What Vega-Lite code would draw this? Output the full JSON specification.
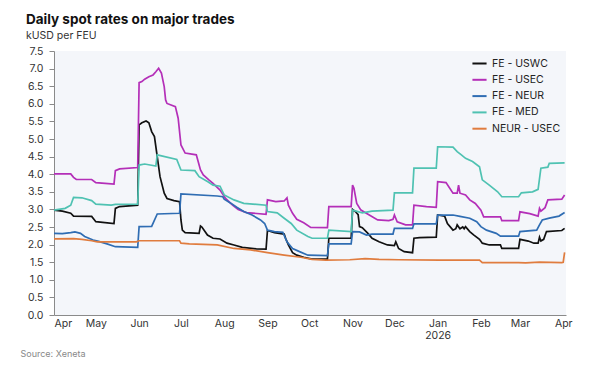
{
  "$schema": "https://vega.github.io/schema/vega-lite/v6.json",
  "width": 512,
  "height": 264,
  "autosize": "none",
  "padding": {"left": 54, "top": 51, "right": 34, "bottom": 62},
  "background": "#ffffff",
  "title": {
    "text": "Daily spot rates on major trades",
    "subtitle": "kUSD per FEU",
    "anchor": "start",
    "frame": "group",
    "dx": -28,
    "offset": 5,
    "font": "Inter",
    "fontSize": 13.5,
    "fontWeight": 700,
    "color": "#111111",
    "subtitleFont": "Inter",
    "subtitleFontSize": 10.5,
    "subtitleColor": "#333333",
    "subtitlePadding": 4
  },
  "config": {
    "view": {"fill": "#f4f6fa", "stroke": null},
    "font": "Inter"
  },
  "data": {
    "values": [
      {"s":"FE - USWC","d":"2025-04-01","v":2.98},{"s":"FE - USWC","d":"2025-04-07","v":2.95},{"s":"FE - USWC","d":"2025-04-13","v":2.89},{"s":"FE - USWC","d":"2025-04-15","v":2.81},{"s":"FE - USWC","d":"2025-04-28","v":2.80},{"s":"FE - USWC","d":"2025-05-01","v":2.65},{"s":"FE - USWC","d":"2025-05-14","v":2.60},{"s":"FE - USWC","d":"2025-05-15","v":3.03},{"s":"FE - USWC","d":"2025-05-18","v":3.08},{"s":"FE - USWC","d":"2025-05-31","v":3.12},{"s":"FE - USWC","d":"2025-06-01","v":5.40},{"s":"FE - USWC","d":"2025-06-03","v":5.46},{"s":"FE - USWC","d":"2025-06-06","v":5.51},{"s":"FE - USWC","d":"2025-06-08","v":5.46},{"s":"FE - USWC","d":"2025-06-10","v":5.21},{"s":"FE - USWC","d":"2025-06-12","v":5.07},{"s":"FE - USWC","d":"2025-06-14","v":4.50},{"s":"FE - USWC","d":"2025-06-16","v":3.93},{"s":"FE - USWC","d":"2025-06-19","v":3.46},{"s":"FE - USWC","d":"2025-06-21","v":3.31},{"s":"FE - USWC","d":"2025-06-26","v":3.25},{"s":"FE - USWC","d":"2025-06-30","v":3.22},{"s":"FE - USWC","d":"2025-07-01","v":2.70},{"s":"FE - USWC","d":"2025-07-02","v":2.41},{"s":"FE - USWC","d":"2025-07-04","v":2.34},{"s":"FE - USWC","d":"2025-07-14","v":2.32},{"s":"FE - USWC","d":"2025-07-15","v":2.53},{"s":"FE - USWC","d":"2025-07-16","v":2.50},{"s":"FE - USWC","d":"2025-07-20","v":2.27},{"s":"FE - USWC","d":"2025-07-24","v":2.18},{"s":"FE - USWC","d":"2025-07-29","v":2.16},{"s":"FE - USWC","d":"2025-08-03","v":2.04},{"s":"FE - USWC","d":"2025-08-08","v":1.99},{"s":"FE - USWC","d":"2025-08-14","v":1.92},{"s":"FE - USWC","d":"2025-08-24","v":1.88},{"s":"FE - USWC","d":"2025-08-31","v":1.87},{"s":"FE - USWC","d":"2025-09-01","v":2.40},{"s":"FE - USWC","d":"2025-09-06","v":2.34},{"s":"FE - USWC","d":"2025-09-13","v":2.30},{"s":"FE - USWC","d":"2025-09-14","v":2.18},{"s":"FE - USWC","d":"2025-09-16","v":1.99},{"s":"FE - USWC","d":"2025-09-19","v":1.77},{"s":"FE - USWC","d":"2025-09-22","v":1.70},{"s":"FE - USWC","d":"2025-09-27","v":1.64},{"s":"FE - USWC","d":"2025-10-03","v":1.59},{"s":"FE - USWC","d":"2025-10-14","v":1.59},{"s":"FE - USWC","d":"2025-10-15","v":2.18},{"s":"FE - USWC","d":"2025-10-31","v":2.18},{"s":"FE - USWC","d":"2025-11-01","v":3.00},{"s":"FE - USWC","d":"2025-11-03","v":2.94},{"s":"FE - USWC","d":"2025-11-05","v":2.85},{"s":"FE - USWC","d":"2025-11-06","v":2.51},{"s":"FE - USWC","d":"2025-11-08","v":2.48},{"s":"FE - USWC","d":"2025-11-12","v":2.32},{"s":"FE - USWC","d":"2025-11-15","v":2.18},{"s":"FE - USWC","d":"2025-11-20","v":2.08},{"s":"FE - USWC","d":"2025-11-26","v":1.99},{"s":"FE - USWC","d":"2025-12-01","v":1.97},{"s":"FE - USWC","d":"2025-12-02","v":2.08},{"s":"FE - USWC","d":"2025-12-04","v":1.89},{"s":"FE - USWC","d":"2025-12-08","v":1.80},{"s":"FE - USWC","d":"2025-12-14","v":1.77},{"s":"FE - USWC","d":"2025-12-15","v":2.18},{"s":"FE - USWC","d":"2025-12-19","v":2.20},{"s":"FE - USWC","d":"2025-12-31","v":2.21},{"s":"FE - USWC","d":"2026-01-01","v":2.84},{"s":"FE - USWC","d":"2026-01-06","v":2.81},{"s":"FE - USWC","d":"2026-01-08","v":2.60},{"s":"FE - USWC","d":"2026-01-12","v":2.41},{"s":"FE - USWC","d":"2026-01-14","v":2.45},{"s":"FE - USWC","d":"2026-01-15","v":2.56},{"s":"FE - USWC","d":"2026-01-17","v":2.45},{"s":"FE - USWC","d":"2026-01-19","v":2.50},{"s":"FE - USWC","d":"2026-01-20","v":2.45},{"s":"FE - USWC","d":"2026-01-21","v":2.51},{"s":"FE - USWC","d":"2026-01-24","v":2.37},{"s":"FE - USWC","d":"2026-01-27","v":2.27},{"s":"FE - USWC","d":"2026-01-31","v":2.15},{"s":"FE - USWC","d":"2026-02-02","v":2.04},{"s":"FE - USWC","d":"2026-02-07","v":1.99},{"s":"FE - USWC","d":"2026-02-15","v":1.99},{"s":"FE - USWC","d":"2026-02-16","v":1.89},{"s":"FE - USWC","d":"2026-02-28","v":1.89},{"s":"FE - USWC","d":"2026-03-01","v":2.15},{"s":"FE - USWC","d":"2026-03-07","v":2.10},{"s":"FE - USWC","d":"2026-03-11","v":2.04},{"s":"FE - USWC","d":"2026-03-14","v":2.04},{"s":"FE - USWC","d":"2026-03-15","v":2.21},{"s":"FE - USWC","d":"2026-03-16","v":2.10},{"s":"FE - USWC","d":"2026-03-18","v":2.15},{"s":"FE - USWC","d":"2026-03-20","v":2.37},{"s":"FE - USWC","d":"2026-03-31","v":2.40},{"s":"FE - USWC","d":"2026-04-02","v":2.46},

      {"s":"FE - USEC","d":"2025-04-01","v":4.01},{"s":"FE - USEC","d":"2025-04-13","v":4.01},{"s":"FE - USEC","d":"2025-04-15","v":3.91},{"s":"FE - USEC","d":"2025-04-17","v":3.85},{"s":"FE - USEC","d":"2025-04-28","v":3.85},{"s":"FE - USEC","d":"2025-05-01","v":3.76},{"s":"FE - USEC","d":"2025-05-14","v":3.72},{"s":"FE - USEC","d":"2025-05-15","v":4.10},{"s":"FE - USEC","d":"2025-05-18","v":4.15},{"s":"FE - USEC","d":"2025-05-31","v":4.19},{"s":"FE - USEC","d":"2025-06-01","v":6.60},{"s":"FE - USEC","d":"2025-06-03","v":6.63},{"s":"FE - USEC","d":"2025-06-05","v":6.70},{"s":"FE - USEC","d":"2025-06-08","v":6.77},{"s":"FE - USEC","d":"2025-06-11","v":6.82},{"s":"FE - USEC","d":"2025-06-13","v":6.91},{"s":"FE - USEC","d":"2025-06-15","v":7.01},{"s":"FE - USEC","d":"2025-06-17","v":6.87},{"s":"FE - USEC","d":"2025-06-19","v":6.49},{"s":"FE - USEC","d":"2025-06-20","v":6.11},{"s":"FE - USEC","d":"2025-06-21","v":6.01},{"s":"FE - USEC","d":"2025-06-27","v":5.92},{"s":"FE - USEC","d":"2025-06-29","v":5.59},{"s":"FE - USEC","d":"2025-07-01","v":4.83},{"s":"FE - USEC","d":"2025-07-04","v":4.60},{"s":"FE - USEC","d":"2025-07-12","v":4.55},{"s":"FE - USEC","d":"2025-07-15","v":4.12},{"s":"FE - USEC","d":"2025-07-17","v":3.98},{"s":"FE - USEC","d":"2025-07-21","v":3.84},{"s":"FE - USEC","d":"2025-07-24","v":3.74},{"s":"FE - USEC","d":"2025-07-29","v":3.55},{"s":"FE - USEC","d":"2025-08-02","v":3.31},{"s":"FE - USEC","d":"2025-08-07","v":3.12},{"s":"FE - USEC","d":"2025-08-11","v":3.00},{"s":"FE - USEC","d":"2025-08-17","v":2.91},{"s":"FE - USEC","d":"2025-08-31","v":2.86},{"s":"FE - USEC","d":"2025-09-01","v":3.27},{"s":"FE - USEC","d":"2025-09-07","v":3.22},{"s":"FE - USEC","d":"2025-09-13","v":3.24},{"s":"FE - USEC","d":"2025-09-15","v":3.33},{"s":"FE - USEC","d":"2025-09-16","v":3.12},{"s":"FE - USEC","d":"2025-09-19","v":2.89},{"s":"FE - USEC","d":"2025-09-22","v":2.72},{"s":"FE - USEC","d":"2025-09-27","v":2.62},{"s":"FE - USEC","d":"2025-10-02","v":2.49},{"s":"FE - USEC","d":"2025-10-14","v":2.48},{"s":"FE - USEC","d":"2025-10-15","v":3.08},{"s":"FE - USEC","d":"2025-10-31","v":3.08},{"s":"FE - USEC","d":"2025-11-01","v":3.69},{"s":"FE - USEC","d":"2025-11-02","v":3.60},{"s":"FE - USEC","d":"2025-11-04","v":3.17},{"s":"FE - USEC","d":"2025-11-07","v":2.98},{"s":"FE - USEC","d":"2025-11-13","v":2.84},{"s":"FE - USEC","d":"2025-11-19","v":2.70},{"s":"FE - USEC","d":"2025-11-27","v":2.68},{"s":"FE - USEC","d":"2025-11-30","v":2.72},{"s":"FE - USEC","d":"2025-12-01","v":2.84},{"s":"FE - USEC","d":"2025-12-03","v":2.65},{"s":"FE - USEC","d":"2025-12-09","v":2.56},{"s":"FE - USEC","d":"2025-12-14","v":2.56},{"s":"FE - USEC","d":"2025-12-15","v":3.12},{"s":"FE - USEC","d":"2025-12-24","v":3.08},{"s":"FE - USEC","d":"2025-12-31","v":3.06},{"s":"FE - USEC","d":"2026-01-01","v":3.79},{"s":"FE - USEC","d":"2026-01-07","v":3.76},{"s":"FE - USEC","d":"2026-01-12","v":3.46},{"s":"FE - USEC","d":"2026-01-15","v":3.46},{"s":"FE - USEC","d":"2026-01-16","v":3.69},{"s":"FE - USEC","d":"2026-01-17","v":3.46},{"s":"FE - USEC","d":"2026-01-21","v":3.41},{"s":"FE - USEC","d":"2026-01-24","v":3.27},{"s":"FE - USEC","d":"2026-01-28","v":3.17},{"s":"FE - USEC","d":"2026-02-01","v":2.98},{"s":"FE - USEC","d":"2026-02-03","v":2.79},{"s":"FE - USEC","d":"2026-02-15","v":2.79},{"s":"FE - USEC","d":"2026-02-16","v":2.68},{"s":"FE - USEC","d":"2026-02-28","v":2.68},{"s":"FE - USEC","d":"2026-03-01","v":2.93},{"s":"FE - USEC","d":"2026-03-08","v":2.88},{"s":"FE - USEC","d":"2026-03-14","v":2.81},{"s":"FE - USEC","d":"2026-03-15","v":3.03},{"s":"FE - USEC","d":"2026-03-16","v":2.95},{"s":"FE - USEC","d":"2026-03-19","v":3.05},{"s":"FE - USEC","d":"2026-03-21","v":3.27},{"s":"FE - USEC","d":"2026-03-31","v":3.29},{"s":"FE - USEC","d":"2026-04-02","v":3.41},

      {"s":"FE - NEUR","d":"2025-04-01","v":2.32},{"s":"FE - NEUR","d":"2025-04-07","v":2.31},{"s":"FE - NEUR","d":"2025-04-13","v":2.34},{"s":"FE - NEUR","d":"2025-04-16","v":2.36},{"s":"FE - NEUR","d":"2025-04-20","v":2.32},{"s":"FE - NEUR","d":"2025-04-23","v":2.23},{"s":"FE - NEUR","d":"2025-04-29","v":2.13},{"s":"FE - NEUR","d":"2025-05-03","v":2.09},{"s":"FE - NEUR","d":"2025-05-09","v":2.02},{"s":"FE - NEUR","d":"2025-05-15","v":1.94},{"s":"FE - NEUR","d":"2025-05-31","v":1.92},{"s":"FE - NEUR","d":"2025-06-01","v":2.51},{"s":"FE - NEUR","d":"2025-06-10","v":2.52},{"s":"FE - NEUR","d":"2025-06-14","v":2.87},{"s":"FE - NEUR","d":"2025-06-30","v":2.89},{"s":"FE - NEUR","d":"2025-07-01","v":3.44},{"s":"FE - NEUR","d":"2025-07-27","v":3.38},{"s":"FE - NEUR","d":"2025-07-31","v":3.36},{"s":"FE - NEUR","d":"2025-08-01","v":3.29},{"s":"FE - NEUR","d":"2025-08-06","v":3.17},{"s":"FE - NEUR","d":"2025-08-10","v":3.06},{"s":"FE - NEUR","d":"2025-08-15","v":2.94},{"s":"FE - NEUR","d":"2025-08-21","v":2.84},{"s":"FE - NEUR","d":"2025-08-27","v":2.70},{"s":"FE - NEUR","d":"2025-08-30","v":2.60},{"s":"FE - NEUR","d":"2025-09-01","v":2.41},{"s":"FE - NEUR","d":"2025-09-06","v":2.37},{"s":"FE - NEUR","d":"2025-09-12","v":2.35},{"s":"FE - NEUR","d":"2025-09-15","v":2.08},{"s":"FE - NEUR","d":"2025-09-19","v":1.89},{"s":"FE - NEUR","d":"2025-09-24","v":1.80},{"s":"FE - NEUR","d":"2025-09-30","v":1.70},{"s":"FE - NEUR","d":"2025-10-14","v":1.69},{"s":"FE - NEUR","d":"2025-10-15","v":2.02},{"s":"FE - NEUR","d":"2025-10-31","v":2.02},{"s":"FE - NEUR","d":"2025-11-01","v":2.37},{"s":"FE - NEUR","d":"2025-11-06","v":2.36},{"s":"FE - NEUR","d":"2025-11-11","v":2.27},{"s":"FE - NEUR","d":"2025-11-15","v":2.30},{"s":"FE - NEUR","d":"2025-11-30","v":2.30},{"s":"FE - NEUR","d":"2025-12-01","v":2.46},{"s":"FE - NEUR","d":"2025-12-14","v":2.46},{"s":"FE - NEUR","d":"2025-12-15","v":2.59},{"s":"FE - NEUR","d":"2025-12-31","v":2.59},{"s":"FE - NEUR","d":"2026-01-01","v":2.84},{"s":"FE - NEUR","d":"2026-01-12","v":2.84},{"s":"FE - NEUR","d":"2026-01-17","v":2.80},{"s":"FE - NEUR","d":"2026-01-24","v":2.75},{"s":"FE - NEUR","d":"2026-01-29","v":2.65},{"s":"FE - NEUR","d":"2026-02-01","v":2.51},{"s":"FE - NEUR","d":"2026-02-05","v":2.41},{"s":"FE - NEUR","d":"2026-02-12","v":2.32},{"s":"FE - NEUR","d":"2026-02-15","v":2.24},{"s":"FE - NEUR","d":"2026-02-28","v":2.24},{"s":"FE - NEUR","d":"2026-03-01","v":2.37},{"s":"FE - NEUR","d":"2026-03-13","v":2.41},{"s":"FE - NEUR","d":"2026-03-15","v":2.56},{"s":"FE - NEUR","d":"2026-03-17","v":2.70},{"s":"FE - NEUR","d":"2026-03-22","v":2.75},{"s":"FE - NEUR","d":"2026-03-29","v":2.81},{"s":"FE - NEUR","d":"2026-04-02","v":2.91},

      {"s":"FE - MED","d":"2025-04-01","v":2.98},{"s":"FE - MED","d":"2025-04-09","v":3.03},{"s":"FE - MED","d":"2025-04-13","v":3.12},{"s":"FE - MED","d":"2025-04-15","v":3.34},{"s":"FE - MED","d":"2025-04-21","v":3.33},{"s":"FE - MED","d":"2025-04-28","v":3.25},{"s":"FE - MED","d":"2025-05-01","v":3.15},{"s":"FE - MED","d":"2025-05-12","v":3.12},{"s":"FE - MED","d":"2025-05-15","v":3.14},{"s":"FE - MED","d":"2025-05-31","v":3.15},{"s":"FE - MED","d":"2025-06-01","v":4.26},{"s":"FE - MED","d":"2025-06-05","v":4.29},{"s":"FE - MED","d":"2025-06-13","v":4.23},{"s":"FE - MED","d":"2025-06-14","v":4.55},{"s":"FE - MED","d":"2025-06-28","v":4.42},{"s":"FE - MED","d":"2025-07-01","v":4.12},{"s":"FE - MED","d":"2025-07-11","v":4.10},{"s":"FE - MED","d":"2025-07-14","v":3.93},{"s":"FE - MED","d":"2025-07-20","v":3.79},{"s":"FE - MED","d":"2025-07-24","v":3.69},{"s":"FE - MED","d":"2025-07-29","v":3.66},{"s":"FE - MED","d":"2025-08-01","v":3.41},{"s":"FE - MED","d":"2025-08-08","v":3.27},{"s":"FE - MED","d":"2025-08-15","v":3.17},{"s":"FE - MED","d":"2025-08-31","v":3.12},{"s":"FE - MED","d":"2025-09-01","v":2.94},{"s":"FE - MED","d":"2025-09-08","v":2.90},{"s":"FE - MED","d":"2025-09-13","v":2.75},{"s":"FE - MED","d":"2025-09-18","v":2.60},{"s":"FE - MED","d":"2025-09-22","v":2.41},{"s":"FE - MED","d":"2025-09-30","v":2.23},{"s":"FE - MED","d":"2025-10-03","v":2.18},{"s":"FE - MED","d":"2025-10-14","v":2.18},{"s":"FE - MED","d":"2025-10-15","v":2.41},{"s":"FE - MED","d":"2025-10-31","v":2.37},{"s":"FE - MED","d":"2025-11-01","v":2.98},{"s":"FE - MED","d":"2025-11-08","v":2.90},{"s":"FE - MED","d":"2025-11-15","v":2.95},{"s":"FE - MED","d":"2025-11-30","v":2.98},{"s":"FE - MED","d":"2025-12-01","v":3.47},{"s":"FE - MED","d":"2025-12-14","v":3.47},{"s":"FE - MED","d":"2025-12-15","v":4.17},{"s":"FE - MED","d":"2025-12-31","v":4.17},{"s":"FE - MED","d":"2026-01-01","v":4.78},{"s":"FE - MED","d":"2026-01-12","v":4.77},{"s":"FE - MED","d":"2026-01-15","v":4.64},{"s":"FE - MED","d":"2026-01-18","v":4.55},{"s":"FE - MED","d":"2026-01-21","v":4.45},{"s":"FE - MED","d":"2026-01-26","v":4.36},{"s":"FE - MED","d":"2026-01-31","v":4.21},{"s":"FE - MED","d":"2026-02-02","v":3.84},{"s":"FE - MED","d":"2026-02-07","v":3.69},{"s":"FE - MED","d":"2026-02-13","v":3.50},{"s":"FE - MED","d":"2026-02-16","v":3.36},{"s":"FE - MED","d":"2026-02-28","v":3.36},{"s":"FE - MED","d":"2026-03-02","v":3.47},{"s":"FE - MED","d":"2026-03-10","v":3.50},{"s":"FE - MED","d":"2026-03-14","v":3.57},{"s":"FE - MED","d":"2026-03-16","v":4.17},{"s":"FE - MED","d":"2026-03-21","v":4.20},{"s":"FE - MED","d":"2026-03-22","v":4.31},{"s":"FE - MED","d":"2026-04-02","v":4.32},

      {"s":"NEUR - USEC","d":"2025-04-01","v":2.16},{"s":"NEUR - USEC","d":"2025-04-15","v":2.17},{"s":"NEUR - USEC","d":"2025-04-21","v":2.15},{"s":"NEUR - USEC","d":"2025-04-28","v":2.11},{"s":"NEUR - USEC","d":"2025-05-02","v":2.08},{"s":"NEUR - USEC","d":"2025-05-30","v":2.08},{"s":"NEUR - USEC","d":"2025-06-01","v":2.11},{"s":"NEUR - USEC","d":"2025-06-30","v":2.11},{"s":"NEUR - USEC","d":"2025-07-01","v":2.04},{"s":"NEUR - USEC","d":"2025-07-07","v":2.02},{"s":"NEUR - USEC","d":"2025-07-27","v":1.99},{"s":"NEUR - USEC","d":"2025-08-08","v":1.89},{"s":"NEUR - USEC","d":"2025-08-20","v":1.85},{"s":"NEUR - USEC","d":"2025-09-01","v":1.77},{"s":"NEUR - USEC","d":"2025-09-13","v":1.70},{"s":"NEUR - USEC","d":"2025-09-25","v":1.64},{"s":"NEUR - USEC","d":"2025-10-03","v":1.58},{"s":"NEUR - USEC","d":"2025-10-13","v":1.56},{"s":"NEUR - USEC","d":"2025-10-30","v":1.57},{"s":"NEUR - USEC","d":"2025-11-10","v":1.60},{"s":"NEUR - USEC","d":"2025-11-20","v":1.58},{"s":"NEUR - USEC","d":"2025-12-04","v":1.57},{"s":"NEUR - USEC","d":"2026-01-02","v":1.56},{"s":"NEUR - USEC","d":"2026-01-31","v":1.56},{"s":"NEUR - USEC","d":"2026-02-02","v":1.49},{"s":"NEUR - USEC","d":"2026-02-28","v":1.49},{"s":"NEUR - USEC","d":"2026-03-05","v":1.48},{"s":"NEUR - USEC","d":"2026-03-15","v":1.50},{"s":"NEUR - USEC","d":"2026-03-31","v":1.49},{"s":"NEUR - USEC","d":"2026-04-01","v":1.50},{"s":"NEUR - USEC","d":"2026-04-02","v":1.78}
    ]
  },
  "mark": {"type": "line", "strokeWidth": 1.7, "interpolate": "linear"},
  "encoding": {
    "x": {
      "field": "d",
      "type": "temporal",
      "scale": {"type": "utc", "domain": [{"year": 2025, "month": 4, "date": 1, "utc": true}, {"year": 2026, "month": 4, "date": 3, "utc": true}]},
      "axis": {
        "title": "Source: Xeneta",
        "titleFont": "Inter",
        "titleFontSize": 9,
        "titleFontWeight": "normal",
        "titleColor": "#888888",
        "titleAnchor": "start",
        "titleAlign": "left",
        "titleX": -34,
        "titleY": 38,
        "titleBaseline": "middle",
        "tickCount": {"interval": "month", "step": 1},
        "labelExpr": "utcFormat(datum.value, '%m') == '01' ? [utcFormat(datum.value, '%b'), utcFormat(datum.value, '%Y')] : utcFormat(datum.value, '%b')",
        "labelFont": "Inter",
        "labelFontSize": 10.5,
        "labelColor": "#333333",
        "labelPadding": 3,
        "labelOverlap": false,
        "ticks": false,
        "grid": false,
        "domainColor": "#8a8a8a",
        "domainWidth": 1
      }
    },
    "y": {
      "field": "v",
      "type": "quantitative",
      "scale": {"domain": [0, 7.5], "nice": false},
      "axis": {
        "title": null,
        "values": [0, 0.5, 1, 1.5, 2, 2.5, 3, 3.5, 4, 4.5, 5, 5.5, 6, 6.5, 7, 7.5],
        "format": ".1f",
        "labelFont": "Inter",
        "labelFontSize": 10.5,
        "labelColor": "#333333",
        "labelPadding": 6,
        "tickSize": 5,
        "tickColor": "#8a8a8a",
        "domainColor": "#8a8a8a",
        "grid": false
      }
    },
    "color": {
      "field": "s",
      "type": "nominal",
      "scale": {
        "domain": ["FE - USWC", "FE - USEC", "FE - NEUR", "FE - MED", "NEUR - USEC"],
        "range": ["#111111", "#b42fb8", "#2f6db3", "#4fc2b2", "#e07c3e"]
      },
      "legend": {
        "title": null,
        "orient": "none",
        "legendX": 417,
        "legendY": 4,
        "symbolType": "stroke",
        "symbolSize": 200,
        "symbolStrokeWidth": 2,
        "labelFont": "Inter",
        "labelFontSize": 10.5,
        "labelColor": "#222222",
        "rowPadding": 2.3,
        "labelOffset": 4
      }
    }
  }
}
